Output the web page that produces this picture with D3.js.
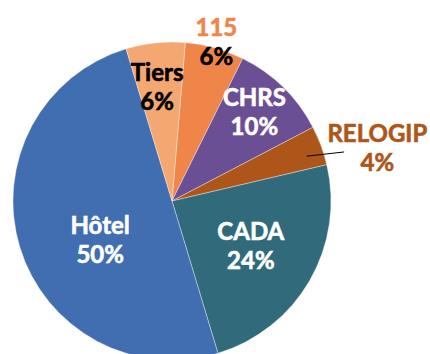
<!DOCTYPE html>
<html>
<head>
<meta charset="utf-8">
<script src="https://cdn.jsdelivr.net/npm/d3@7"></script>
<style>
  html, body { margin: 0; padding: 0; background: #fff; }
  svg { display: block; }
  text { font-family: Lato, "Open Sans", sans-serif; font-weight: 700; }
</style>
</head>
<body>
<svg id="chart" width="430" height="354"></svg>
<script>
// Share of accommodation by type (clockwise from the top)
const categories = ["115", "CHRS", "RELOGIP", "CADA", "Hôtel", "Tiers"];
const shares     = [6, 10, 4, 24, 50, 6];
const colors     = ["#EF8549", "#6B4F94", "#AE5619", "#316B7B", "#416EB1", "#F4A771"];
const nameColors  = ["#EF8549", "#ffffff", "#AE5619", "#ffffff", "#ffffff", "#000000"];
const valueColors = ["#000000", "#ffffff", "#AE5619", "#ffffff", "#ffffff", "#000000"];

// label placement: distance from the centre and angular nudge (degrees)
const labelRadius = [165, 121, 212, 91, 82, 114];
const labelNudge  = [0, -1.5, 6, 0, -12, -1.5];

const width = 430, height = 354;
const cx = 172, cy = 201, radius = 159;
const startDeg = 4.8;

const svg = d3.select("#chart");
const g = svg.append("g").attr("transform", `translate(${cx},${cy})`);

const rad = d => d * Math.PI / 180;

const pie = d3.pie()
  .sort(null)
  .value(d => d.value)
  .startAngle(rad(startDeg))
  .endAngle(rad(startDeg) + 2 * Math.PI);

const data = categories.map((c, i) => ({ name: c, value: shares[i], i }));
const arcs = pie(data);

const arc = d3.arc().innerRadius(0).outerRadius(radius);

g.selectAll("path.slice")
  .data(arcs)
  .join("path")
  .attr("class", "slice")
  .attr("d", arc)
  .attr("fill", d => colors[d.data.i])
  .attr("stroke", "#ffffff")
  .attr("stroke-opacity", 0.6)
  .attr("stroke-width", 0.6);

const polar = (angleRad, r) => [Math.sin(angleRad) * r, -Math.cos(angleRad) * r];

// leader line for the small RELOGIP slice
const relo = arcs.find(d => d.data.name === "RELOGIP");
const reloMid = (relo.startAngle + relo.endAngle) / 2;
const p0 = polar(reloMid + rad(2), 142);
const p1 = polar(reloMid + rad(4.5), 179);
g.append("line")
  .attr("x1", p0[0]).attr("y1", p0[1])
  .attr("x2", p1[0]).attr("y2", p1[1])
  .attr("stroke", "#000")
  .attr("stroke-width", 1);

const fontSize = 24, lineGap = 29;

const labels = g.selectAll("g.label")
  .data(arcs)
  .join("g")
  .attr("class", "label")
  .attr("transform", d => {
    const i = d.data.i;
    const mid = (d.startAngle + d.endAngle) / 2 + rad(labelNudge[i]);
    const [x, y] = polar(mid, labelRadius[i]);
    return `translate(${x},${y})`;
  });

// a thin same-colour stroke gives the labels a heavier weight
labels.append("text")
  .attr("text-anchor", "middle")
  .attr("font-size", fontSize)
  .attr("y", -lineGap / 2 + 8)
  .attr("fill", d => nameColors[d.data.i])
  .attr("stroke", d => nameColors[d.data.i])
  .attr("stroke-width", 0.6)
  .text(d => d.data.name);

labels.append("text")
  .attr("text-anchor", "middle")
  .attr("font-size", fontSize)
  .attr("y", lineGap / 2 + 8)
  .attr("fill", d => valueColors[d.data.i])
  .attr("stroke", d => valueColors[d.data.i])
  .attr("stroke-width", 0.6)
  .text(d => d.data.value + "%");
</script>
</body>
</html>
